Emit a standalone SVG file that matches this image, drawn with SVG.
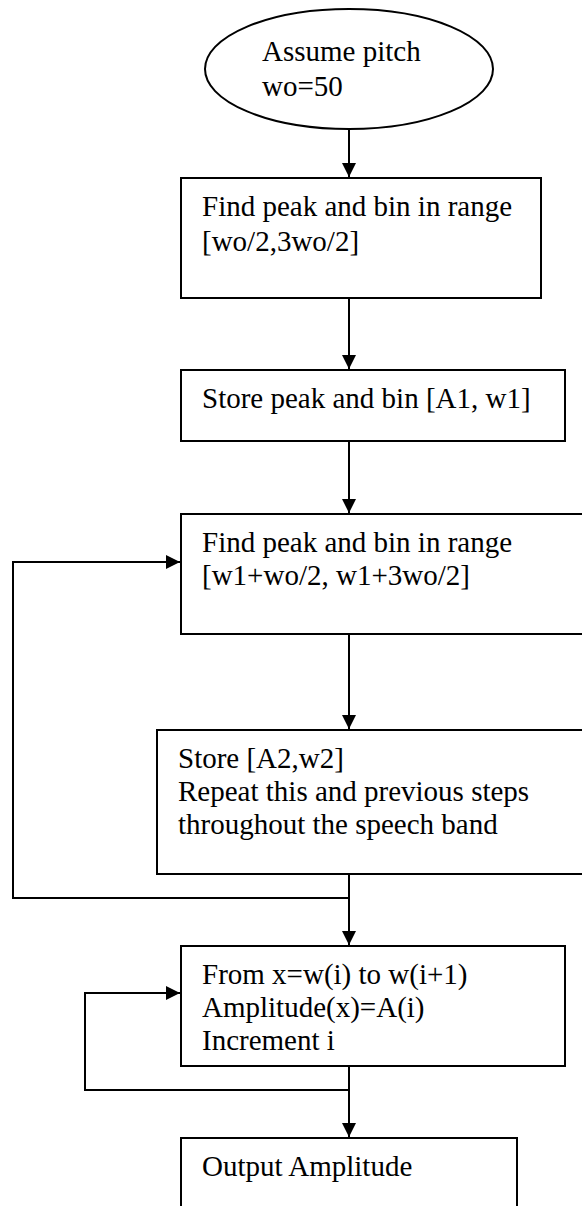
<svg xmlns="http://www.w3.org/2000/svg" width="582" height="1206" viewBox="0 0 582 1206">
<style>
.shape{fill:#fff;stroke:#000;stroke-width:2}
.t{font-family:"Liberation Serif","Times New Roman",serif;font-size:29px;fill:#000}
.c{fill:none;stroke:#000;stroke-width:2}
</style>
<defs>
<marker id="ah" viewBox="0 0 14 14" refX="14" refY="7" markerWidth="14" markerHeight="14" markerUnits="userSpaceOnUse" orient="auto">
<path d="M0,0 L14,7 L0,14 z" fill="#000"/>
</marker>
</defs>
<rect width="582" height="1206" fill="#fff"/>
<g id="connectors">
<line class="c" x1="349" y1="129" x2="349" y2="177" marker-end="url(#ah)"/>
<line class="c" x1="349" y1="298" x2="349" y2="369" marker-end="url(#ah)"/>
<line class="c" x1="349" y1="441" x2="349" y2="513" marker-end="url(#ah)"/>
<line class="c" x1="349" y1="634" x2="349" y2="729" marker-end="url(#ah)"/>
<line class="c" x1="349" y1="874" x2="349" y2="945" marker-end="url(#ah)"/>
<polyline class="c" points="349,898 13,898 13,562 180,562" marker-end="url(#ah)"/>
<line class="c" x1="349" y1="1066" x2="349" y2="1137" marker-end="url(#ah)"/>
<polyline class="c" points="349,1090 85,1090 85,993 180,993" marker-end="url(#ah)"/>
</g>
<g id="start">
<ellipse class="shape" cx="349" cy="69" rx="144" ry="60"/>
<text class="t" x="262" y="61">Assume pitch</text>
<text class="t" x="262" y="96">wo=50</text>
</g>
<g id="find1">
<rect class="shape" x="181" y="178" width="360" height="120"/>
<text class="t" x="202" y="216">Find peak and bin in range</text>
<text class="t" x="202" y="251">[wo/2,3wo/2]</text>
</g>
<g id="store1">
<rect class="shape" x="181" y="370" width="384" height="71"/>
<text class="t" x="202" y="408">Store peak and bin [A1, w1]</text>
</g>
<g id="find2">
<rect class="shape" x="181" y="514" width="420" height="120"/>
<text class="t" x="202" y="552">Find peak and bin in range</text>
<text class="t" x="202" y="585">[w1+wo/2, w1+3wo/2]</text>
</g>
<g id="store2">
<rect class="shape" x="157" y="730" width="444" height="144"/>
<text class="t" x="178" y="768">Store [A2,w2]</text>
<text class="t" x="178" y="801">Repeat this and previous steps</text>
<text class="t" x="178" y="834">throughout the speech band</text>
</g>
<g id="amplitude">
<rect class="shape" x="181" y="946" width="384" height="120"/>
<text class="t" x="202" y="984">From x=w(i) to w(i+1)</text>
<text class="t" x="202" y="1017">Amplitude(x)=A(i)</text>
<text class="t" x="202" y="1050">Increment i</text>
</g>
<g id="output">
<rect class="shape" x="181" y="1138" width="336" height="100"/>
<text class="t" x="202" y="1176">Output Amplitude</text>
</g>
</svg>
